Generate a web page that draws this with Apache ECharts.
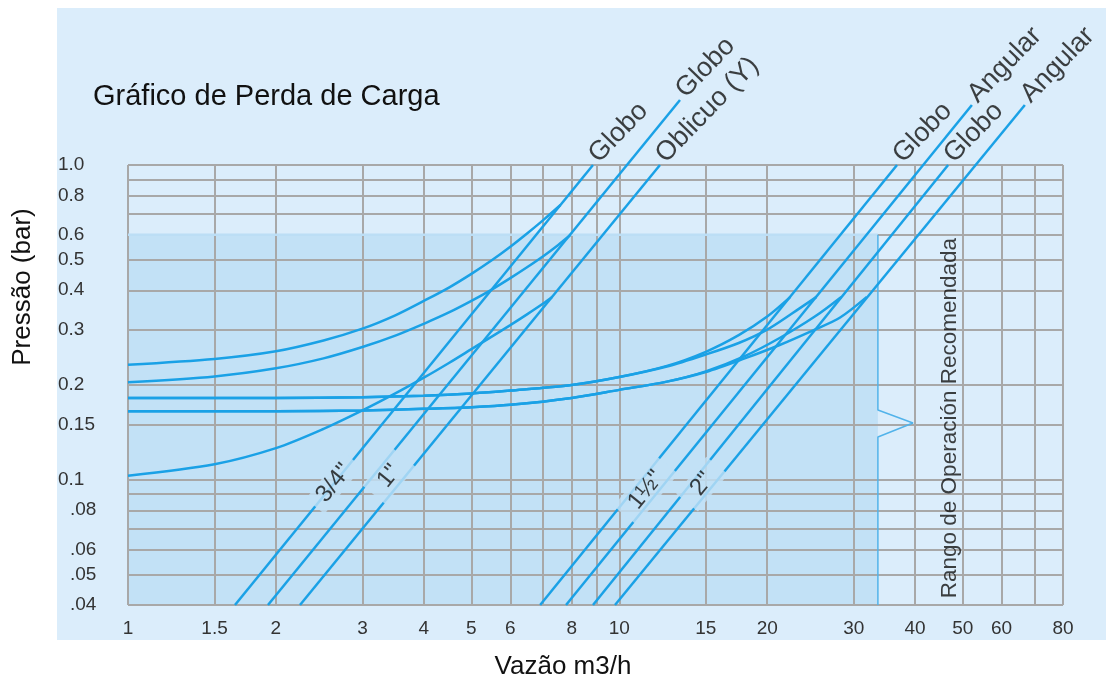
<!DOCTYPE html>
<html><head><meta charset="utf-8">
<script src="https://cdn.jsdelivr.net/npm/echarts@6/dist/echarts.min.js"></script>
<style>html,body{margin:0;padding:0;background:#fff}#c{width:1106px;height:679px}</style>
</head><body><div id="c"></div>
<script>
// ---------- axes ----------
const xTickValues = [1, 1.5, 2, 3, 4, 5, 6, 8, 10, 15, 20, 30, 40, 50, 60, 80];
const xTickLabels = ['1', '1.5', '2', '3', '4', '5', '6', '8', '10', '15', '20', '30', '40', '50', '60', '80'];
const xGridValues = [1, 1.5, 2, 3, 4, 5, 6, 7, 8, 9, 10, 15, 20, 30, 40, 50, 60, 70, 80];
const yTickValues = [1.0, 0.8, 0.6, 0.5, 0.4, 0.3, 0.2, 0.15, 0.1, 0.08, 0.06, 0.05, 0.04];
const yTickLabels = ['1.0', '0.8', '0.6', '0.5', '0.4', '0.3', '0.2', '0.15', '0.1', '.08', '.06', '.05', '.04'];
const yGridValues = [1, 0.9, 0.8, 0.7, 0.6, 0.5, 0.4, 0.3, 0.2, 0.15, 0.1, 0.09, 0.08, 0.07, 0.06, 0.05, 0.04];
const xMin = 1, xMax = 80, yMin = 0.04, yMax = 1.0, yMaxExt = 2.0;

// ---------- straight lines (flow m3/h, pressure bar) ----------
const line34Globo    = [[1.651, 0.04], [8.84, 1.0]];
const line1Globo     = [[1.927, 0.04], [13.29, 1.609]];
const line1Oblicuo   = [[2.239, 0.04], [12.1, 1.0]];
const line112Globo   = [[6.90, 0.04], [36.75, 1.0]];
const line112Angular = [[7.79, 0.04], [52.2, 1.551]];
const line2Globo     = [[8.84, 0.04], [46.7, 1.0]];
const line2Angular   = [[9.80, 0.04], [66.9, 1.551]];
const lineTags = ['Globo', 'Globo', 'Oblicuo (Y)', 'Globo', 'Angular', 'Globo', 'Angular'];

// ---------- regulation curves ----------
const curveA = [[1, 0.232], [1.5, 0.242], [2, 0.256], [2.5, 0.277], [3, 0.302], [3.5, 0.333], [4, 0.37], [4.5, 0.408], [5, 0.451], [5.5, 0.498], [6, 0.55], [6.5, 0.607], [7, 0.668], [7.59, 0.746]];
const curveB = [[1, 0.204], [1.5, 0.213], [2, 0.226], [2.5, 0.243], [3, 0.264], [3.5, 0.287], [4, 0.313], [4.5, 0.34], [5, 0.37], [5.5, 0.402], [6, 0.437], [6.5, 0.474], [7, 0.513], [7.5, 0.556], [7.96, 0.6]];
const curveC = [[1, 0.103], [1.5, 0.112], [2, 0.126], [2.5, 0.145], [3, 0.166], [3.5, 0.188], [4, 0.211], [4.5, 0.235], [5, 0.26], [5.5, 0.285], [6, 0.31], [6.5, 0.336], [7, 0.363], [7.29, 0.38]];
const curveD1 = [[1, 0.182], [2, 0.182], [3, 0.183], [4, 0.185], [5, 0.188], [6, 0.192], [8, 0.2], [10, 0.212], [12.5, 0.23], [15, 0.255], [17.5, 0.288], [20, 0.33], [22.3, 0.381]];
const curveD2 = [[1, 0.182], [2, 0.182], [3, 0.183], [4, 0.185], [5, 0.188], [6, 0.192], [8, 0.2], [10, 0.212], [12.5, 0.229], [15, 0.25], [17.5, 0.272], [20, 0.3], [22.5, 0.338], [25.2, 0.381]];
const curveE1 = [[1, 0.165], [2, 0.165], [3, 0.166], [4, 0.168], [5, 0.17], [6, 0.173], [8, 0.182], [10, 0.193], [12.5, 0.205], [15, 0.221], [18, 0.247], [21.2, 0.282], [25, 0.33], [28.3, 0.381]];
const curveE2 = [[1, 0.165], [2, 0.165], [3, 0.166], [4, 0.168], [5, 0.17], [6, 0.173], [8, 0.182], [10, 0.193], [12.5, 0.205], [15, 0.22], [18, 0.243], [21.2, 0.268], [25, 0.3], [28.1, 0.327], [31.9, 0.381]];

// ---------- recommended range ----------
const shadeRegion = [[1, 0.6], [33.6, 0.6]];
const shadeEdge = [[33.6, 0.04], [33.6, 0.1367], [39.6, 0.1514], [33.6, 0.1665], [33.6, 0.6]];
const rangeText = 'Rango de Operación Recomendada';
const rangePos = [47.1, 0.157];

// ---------- size labels ----------
const sizeLabelText = ['3/4"', '1"', '1½"', '2"'];
const sizeLabelQ = [2.626, 3.398, 11.33, 14.74];
const sizeLabelP = [0.0976, 0.1027, 0.0928, 0.0969];

// ---------- styling ----------
const FONT = "'Liberation Sans', Arial, Helvetica, sans-serif";
const PANEL = '#dbedfb', SHADE = '#c2e1f6', GRID = '#a8a8a8', BLUE = '#1aa1e6';
const L = v => Math.log10(v);
const P = arr => arr.map(p => [L(p[0]), L(p[1])]);
const plotLeft = 128, plotRight = 43, plotTop = 165, plotBottom = 74, H = 679;
const plotH = H - plotTop - plotBottom;
const extTop = plotTop - plotH * (L(yMaxExt) - L(yMax)) / (L(yMax) - L(yMin));

function lookup(vals, labels, v) {
  for (let i = 0; i < vals.length; i++) if (Math.abs(L(vals[i]) - v) < 1e-6) return labels[i];
  return '';
}

const straight = [line34Globo, line1Globo, line1Oblicuo, line112Globo, line112Angular, line2Globo, line2Angular];
const curves = [curveA, curveB, curveC, curveD1, curveD2, curveE1, curveE2];

const series = [];
series.push({
  type: 'line', xAxisIndex: 0, yAxisIndex: 0, z: 1, silent: true, symbol: 'none',
  data: P(shadeRegion), lineStyle: { width: 0, opacity: 0 },
  areaStyle: { color: SHADE, opacity: 1, origin: 'start' }
});
series.push({
  type: 'line', xAxisIndex: 0, yAxisIndex: 0, z: 3, silent: true, symbol: 'none',
  data: P(shadeRegion), lineStyle: { color: '#bcdef5', width: 2.5 }
});
series.push({
  type: 'line', xAxisIndex: 0, yAxisIndex: 0, z: 3, silent: true, symbol: 'none',
  data: P(shadeEdge), lineStyle: { color: '#52b3ea', width: 1.5 }
});
straight.forEach(s => series.push({
  type: 'line', xAxisIndex: 1, yAxisIndex: 1, z: 4, silent: true, symbol: 'none',
  data: P(s), lineStyle: { color: BLUE, width: 2.5 }
}));
curves.forEach(c => series.push({
  type: 'line', xAxisIndex: 1, yAxisIndex: 1, z: 4, silent: true, symbol: 'none',
  smooth: 0.3, data: P(c), lineStyle: { color: BLUE, width: 2.5 }
}));
// end labels
series.push({
  type: 'scatter', xAxisIndex: 1, yAxisIndex: 1, z: 6, silent: true, symbolSize: 1,
  itemStyle: { color: 'rgba(0,0,0,0)' },
  data: straight.map((s, i) => ({
    value: [L(s[s.length - 1][0]), L(s[s.length - 1][1])],
    label: { formatter: lineTags[i] }
  })),
  label: {
    show: true, position: [1, -6], rotate: 46, align: 'left', verticalAlign: 'middle',
    fontSize: 27, fontFamily: FONT, color: '#111'
  }
});
// size labels (boxes interrupting lines)
const sizePad = [[0, 9], [3, 13], [3, 12], [2, 13]];
series.push({
  type: 'scatter', xAxisIndex: 1, yAxisIndex: 1, z: 7, silent: true, symbolSize: 1,
  itemStyle: { color: 'rgba(0,0,0,0)' },
  data: sizeLabelText.map((t, i) => ({
    value: [L(sizeLabelQ[i]), L(sizeLabelP[i])],
    label: { formatter: t, padding: sizePad[i] }
  })),
  label: {
    show: true, position: 'inside', rotate: 51, align: 'center', verticalAlign: 'middle',
    fontSize: 24, fontFamily: FONT, color: '#111', backgroundColor: SHADE
  }
});
// range label
series.push({
  type: 'scatter', xAxisIndex: 0, yAxisIndex: 0, z: 6, silent: true, symbolSize: 1,
  itemStyle: { color: 'rgba(0,0,0,0)' },
  data: [[L(rangePos[0]), L(rangePos[1])]],
  label: {
    show: true, position: 'inside', rotate: 90, align: 'center', verticalAlign: 'middle',
    formatter: rangeText, fontSize: 22.5, fontFamily: FONT, color: '#111'
  }
});

const labelStyle = { fontSize: 19, fontFamily: FONT, color: '#333' };
const option = {
  backgroundColor: '#ffffff',
  animation: false,
  graphic: { elements: [{ type: 'rect', z: -100, shape: { x: 57, y: 8, width: 1106 - 57, height: 632 }, style: { fill: PANEL } }] },
  title: { text: 'Gráfico de Perda de Carga', left: 93, top: 82, padding: 0,
    textStyle: { fontSize: 29, fontWeight: 'normal', fontFamily: FONT, color: '#111' } },
  grid: [
    { left: plotLeft, right: plotRight, top: plotTop, bottom: plotBottom, containLabel: false, outerBoundsMode: 'none' },
    { left: plotLeft, right: plotRight, top: extTop, bottom: plotBottom, containLabel: false, outerBoundsMode: 'none' }
  ],
  xAxis: [
    { type: 'value', gridIndex: 0, min: L(xMin), max: L(xMax), z: 2,
      name: 'Vazão m3/h', nameLocation: 'middle', nameGap: 49,
      nameTextStyle: { fontSize: 26, fontFamily: FONT, color: '#111', padding: [0, 65, 0, 0] },
      axisLine: { show: false }, axisTick: { show: false, customValues: xGridValues.map(L) },
      splitLine: { show: true, lineStyle: { color: GRID, width: 2 } },
      axisLabel: { customValues: xTickValues.map(L), margin: 14, ...labelStyle,
        formatter: v => lookup(xTickValues, xTickLabels, v) } },
    { type: 'value', gridIndex: 1, min: L(xMin), max: L(xMax), show: false }
  ],
  yAxis: [
    { type: 'value', gridIndex: 0, min: L(yMin), max: L(yMax), z: 2,
      name: 'Pressão (bar)', nameLocation: 'middle', nameRotate: 90, nameGap: 92,
      nameTextStyle: { fontSize: 26, fontFamily: FONT, color: '#111', padding: [0, 0, 0, 196] },
      axisLine: { show: false }, axisTick: { show: false, customValues: yGridValues.map(L) },
      splitLine: { show: true, lineStyle: { color: GRID, width: 2 } },
      axisLabel: { customValues: yTickValues.map(L), margin: 70, align: 'left', ...labelStyle,
        formatter: v => { const t = lookup(yTickValues, yTickLabels, v); return t.charAt(0) === '.' ? '{d|' + t + '}' : t; },
        rich: { d: { padding: [0, 0, 0, 12], ...labelStyle } } } },
    { type: 'value', gridIndex: 1, min: L(yMin), max: L(yMaxExt), show: false }
  ],
  series: series
};
const chart = echarts.init(document.getElementById('c'), null, { renderer: 'canvas' });
chart.setOption(option);
</script></body></html>
